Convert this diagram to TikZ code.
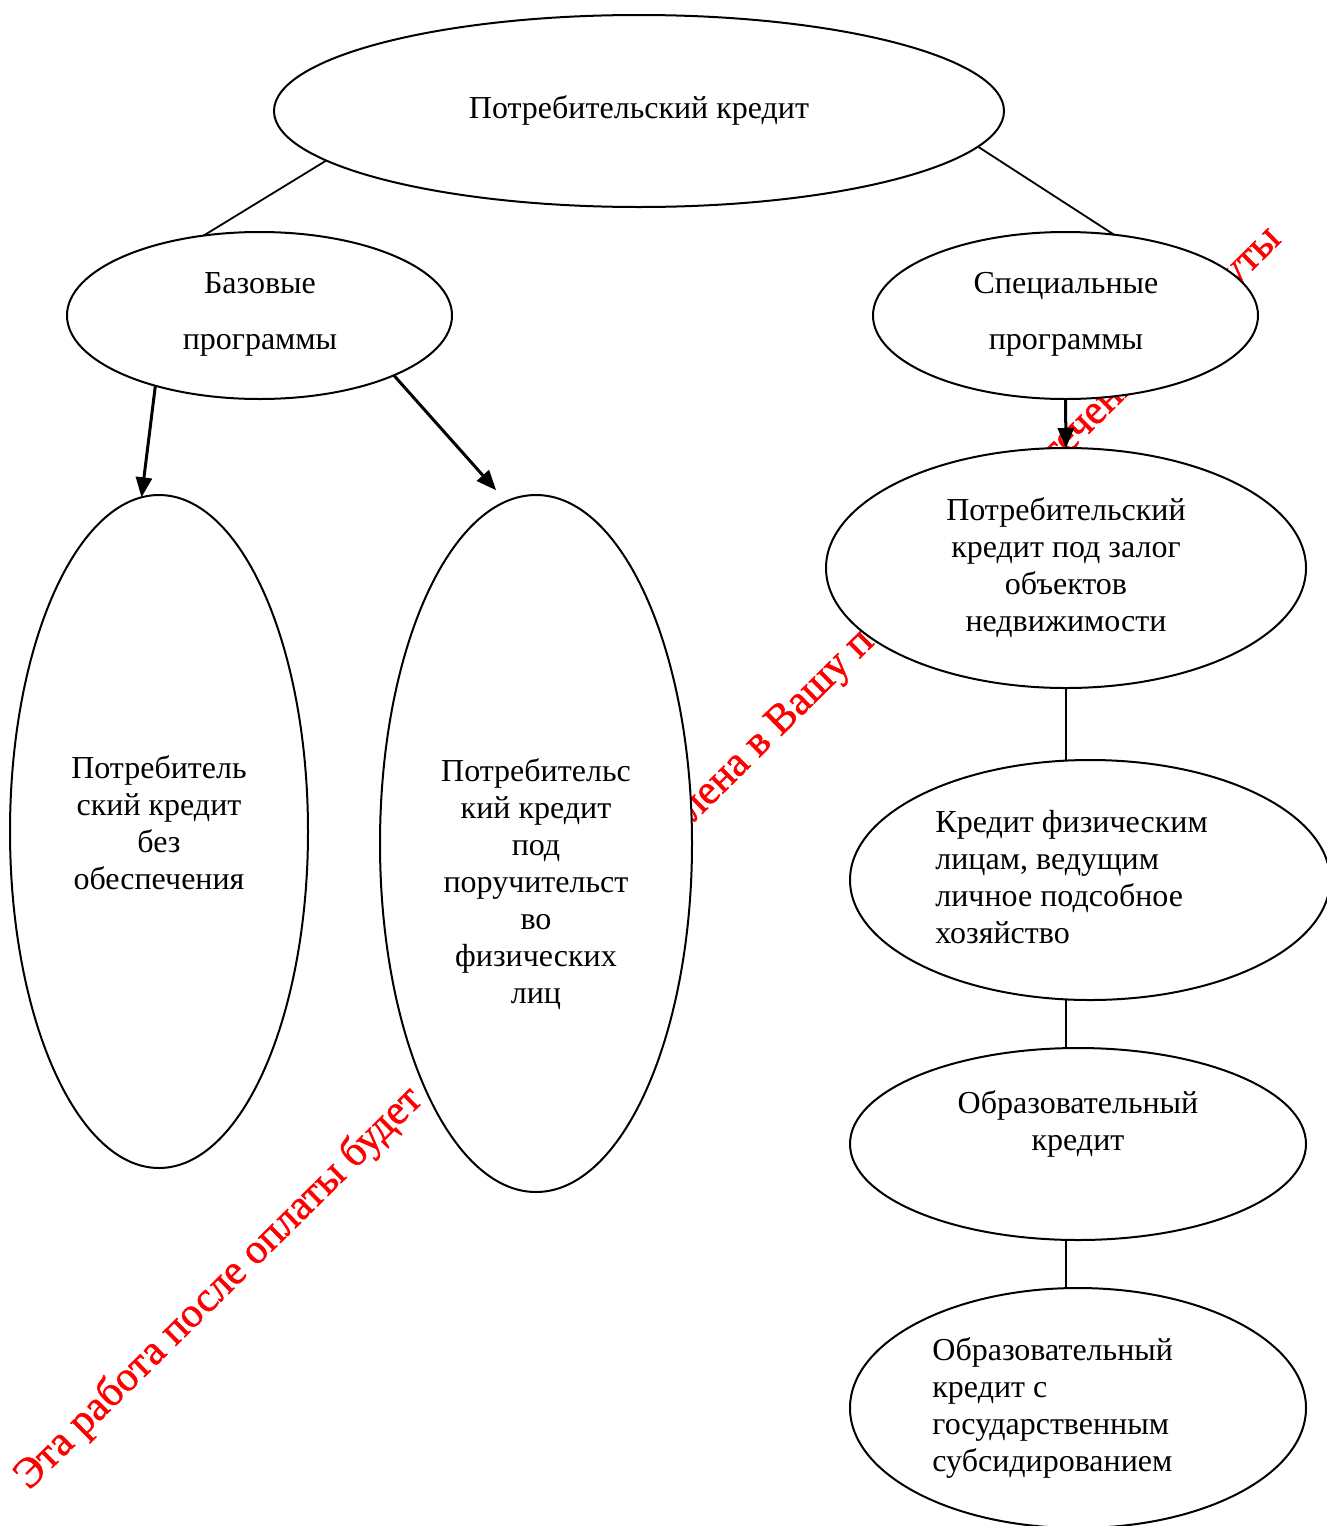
\documentclass[tikz,border=0pt]{standalone}
\usepackage{fontspec}
\setmainfont{Liberation Serif}
\newfontfamily\wmfont[FakeBold=1.2]{Liberation Serif}
\usetikzlibrary{shapes.geometric,arrows.meta}

\begin{document}
\begin{tikzpicture}[
    x=0.5pt, y=-0.5pt,
    oval/.style={ellipse, draw, fill=white, line width=1pt, inner sep=0pt, outer sep=0pt},
    ovaltext/.style={align=center, inner sep=0pt, font=\fontsize{16pt}{18.5pt}\selectfont},
    wmark/.style={anchor=base west, rotate=44.6, inner sep=0pt, text=red, font=\wmfont\fontsize{21pt}{25pt}\selectfont},
    link/.style={line width=0.9pt},
    arrow/.style={-{Triangle[length=10pt,width=8pt]}, line width=1.5pt}
]
\useasboundingbox (0,0) rectangle (1327,1526);
\fill[white] (0,0) rectangle (1327,1526);

% watermark, behind the ovals
\node[wmark] (wm1) at (29,1491) {Эта работа после оплаты будет};
\node[wmark] (wm2) at (680,836) {влена в Вашу по};
\node[wmark] (wm3) at (1033,489) {в течение};
\node[wmark] (wm4) at (1183,339) {минуты};

% ovals
\node[oval, minimum width=365pt, minimum height=96pt] (credit) at (639,111) {};
\node[oval, minimum width=192.5pt, minimum height=83.5pt] (base) at (259.5,315.5) {};
\node[oval, minimum width=192.5pt, minimum height=83.5pt] (special) at (1065.5,315.5) {};
\node[oval, minimum width=149pt, minimum height=336.5pt] (nosec) at (159,831.5) {};
\node[oval, minimum width=156pt, minimum height=348.5pt] (guar) at (536,843.5) {};
\node[oval, minimum width=240pt, minimum height=120pt] (realty) at (1066,568) {};
\node[oval, minimum width=240pt, minimum height=120pt] (farm) at (1090,880) {};
\node[oval, minimum width=228pt, minimum height=96pt] (edu) at (1078,1144) {};
\node[oval, minimum width=228pt, minimum height=120pt] (subsid) at (1078,1408) {};

% texts
\node[ovaltext, anchor=base] (credit-t) at (639,118) {Потребительский кредит};
\node[ovaltext, anchor=north, font=\fontsize{16pt}{28pt}\selectfont] (base-t) at (260,272) {Базовые\\программы};
\node[ovaltext, anchor=north, font=\fontsize{16pt}{28pt}\selectfont] (special-t) at (1066,272) {Специальные\\программы};
\node[ovaltext, anchor=north] (nosec-t) at (159,755) {Потребитель\\ский кредит\\без\\обеспечения};
\node[ovaltext, anchor=north] (guar-t) at (536,758) {Потребительс\\кий кредит\\под\\поручительст\\во\\физических\\лиц};
\node[ovaltext, anchor=north] (realty-t) at (1066,497) {Потребительский\\кредит под залог\\объектов\\недвижимости};
\node[ovaltext, anchor=north west, align=left] (farm-t) at (935,810) {Кредит физическим\\лицам, ведущим\\личное подсобное\\хозяйство};
\node[ovaltext, anchor=north] (edu-t) at (1078,1090) {Образовательный\\кредит};
\node[ovaltext, anchor=north west, align=left] (subsid-t) at (932,1337) {Образовательный\\кредит с\\государственным\\субсидированием};

% connectors
\draw[link] (credit.189.6) -- (base.125);
\draw[link] (credit.354.4) -- (special.59.3);
\draw[arrow] (base.214) -- (nosec.93);
\draw[arrow, shorten >=7.5pt] (base.336.7) -- (guar.95.8);
\draw[arrow] (special.south) -- (realty.north);
\draw[link, line width=1pt] (realty.south) -- (farm.north -| realty.south);
\draw[link, line width=1pt] (farm.south -| realty.south) -- (edu.north -| realty.south);
\draw[link, line width=1pt] (edu.south -| realty.south) -- (subsid.north -| realty.south);
\end{tikzpicture}
\end{document}
